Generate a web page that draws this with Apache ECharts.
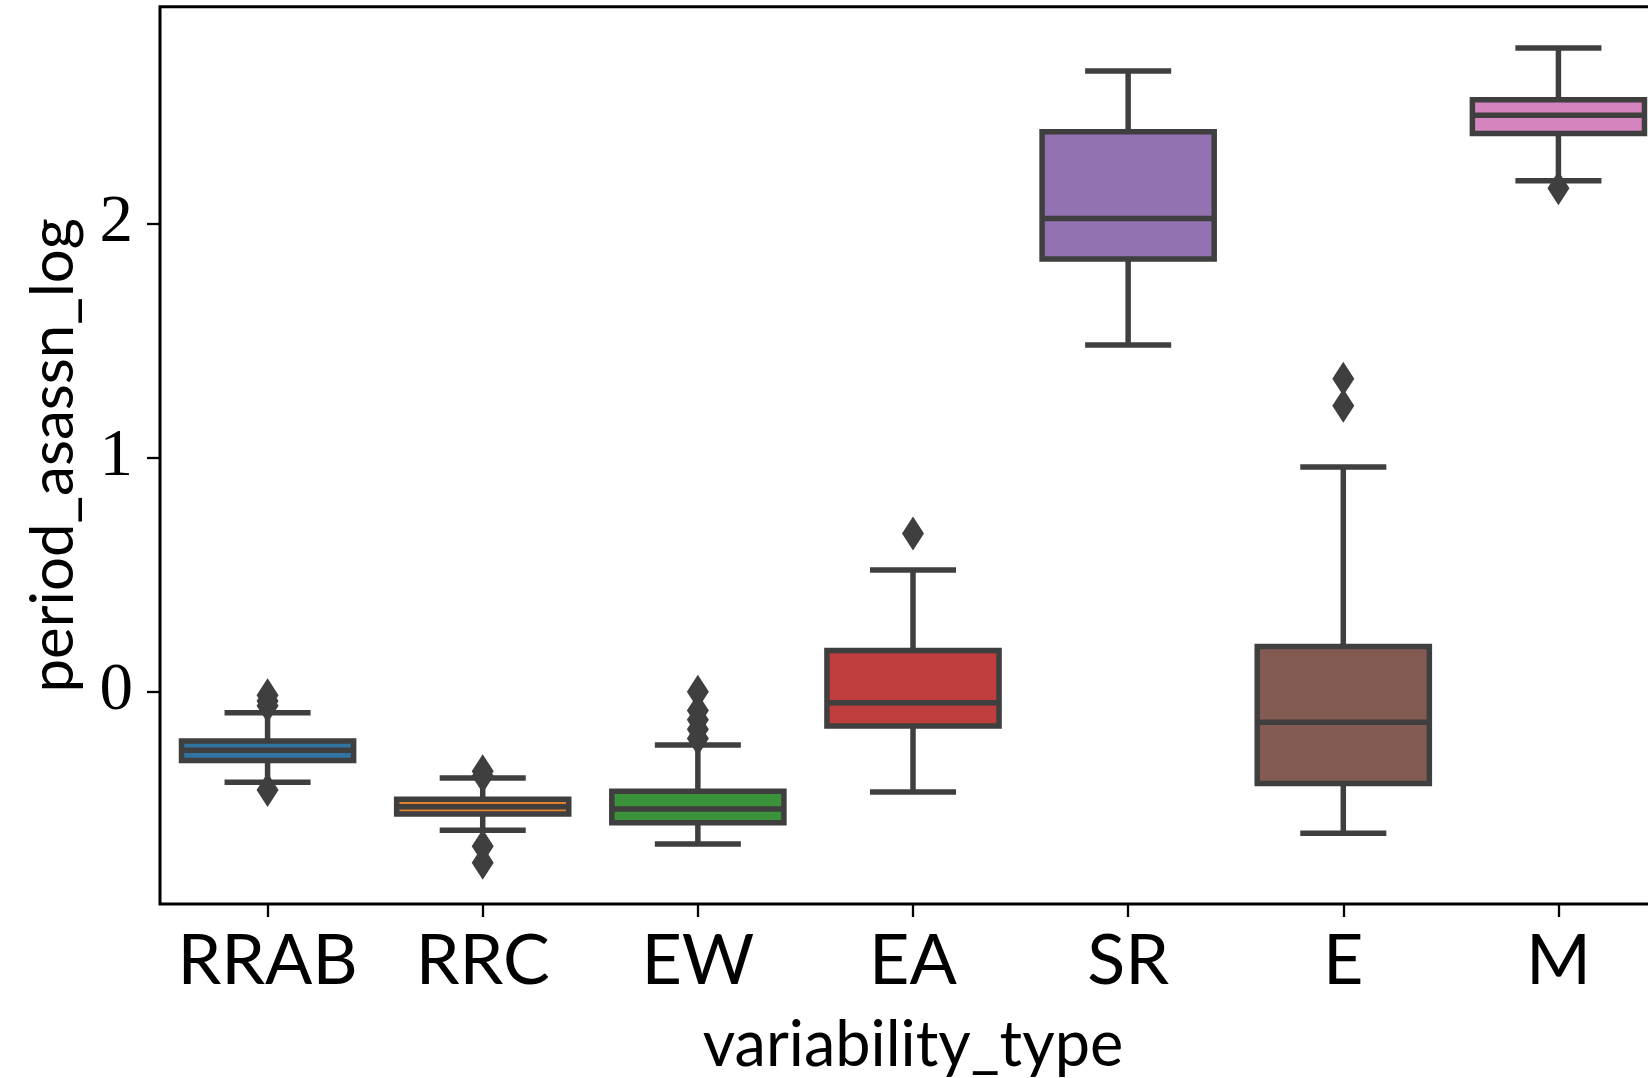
<!DOCTYPE html>
<html>
<head>
<meta charset="utf-8">
<script src="https://cdn.jsdelivr.net/npm/echarts@6/dist/echarts.min.js"></script>
<style>
  html, body { margin: 0; padding: 0; background: #ffffff; }
  #chart { width: 1648px; height: 1078px; }
</style>
</head>
<body>
<div id="chart"></div>
<script>
// ---- data ----
const categories  = ['RRAB', 'RRC', 'EW', 'EA', 'SR', 'E', 'M'];
const whiskerLow  = [-0.387, -0.592, -0.650, -0.428, 1.480, -0.604, 2.182];
const q1          = [-0.294, -0.522, -0.560, -0.146, 1.848, -0.392, 2.384];
const median      = [-0.250, -0.491, -0.501, -0.047, 2.021, -0.130, 2.462];
const q3          = [-0.211, -0.459, -0.425, 0.176, 2.391, 0.193, 2.528];
const whiskerHigh = [-0.090, -0.368, -0.228, 0.520, 2.650, 0.959, 2.749];
const outliers = [
  ['RRAB', -0.015], ['RRAB', -0.040], ['RRAB', -0.060], ['RRAB', -0.420],
  ['RRC', -0.340], ['RRC', -0.360], ['RRC', -0.660], ['RRC', -0.730],
  ['EW', 0.000], ['EW', -0.080], ['EW', -0.120], ['EW', -0.160], ['EW', -0.200],
  ['EA', 0.676],
  ['E', 1.336], ['E', 1.221],
  ['M', 2.150]
];
const yTickValues = [0, 1, 2];

// ---- styling ----
const palette = ['#3274a1', '#e1812c', '#3a923a', '#c03d3e', '#9372b2', '#845b53', '#d684bd'];
const lineColor = '#3f3f3f';
const lw = 5.5;

const boxData = categories.map((c, i) => [i, whiskerLow[i], q1[i], median[i], q3[i], whiskerHigh[i]]);
const outlierData = outliers.map(o => [categories.indexOf(o[0]), o[1]]);

const chart = echarts.init(document.getElementById('chart'), null, { renderer: 'canvas' });

chart.setOption({
  animation: false,
  backgroundColor: '#ffffff',
  grid: {
    left: 160, top: 6.7, width: 1506, height: 897.3,
    outerBoundsMode: 'none',
    containLabel: false,
    show: true, borderColor: '#000000', borderWidth: 3, backgroundColor: 'transparent'
  },
  xAxis: {
    type: 'category',
    data: categories,
    boundaryGap: true,
    name: 'variability_type',
    nameLocation: 'middle',
    nameGap: 110,
    nameTextStyle: { fontFamily: 'Lato', fontSize: 63, color: '#000000' },
    axisLine: { show: false, onZero: false },
    axisTick: { show: true, interval: 0, alignWithLabel: true, length: 13, lineStyle: { color: '#000000', width: 2.3 } },
    axisLabel: { interval: 0, fontFamily: 'Lato', fontSize: 70, color: '#000000', margin: 22 },
    splitLine: { show: false }
  },
  yAxis: {
    type: 'value',
    min: -0.9065,
    max: 2.925,
    name: 'period_asassn_log',
    nameLocation: 'middle',
    nameGap: 76,
    nameTextStyle: { fontFamily: 'Lato', fontSize: 60, color: '#000000' },
    axisLine: { show: false, onZero: false },
    axisTick: { show: true, length: 13, customValues: yTickValues, lineStyle: { color: '#000000', width: 2.3 } },
    axisLabel: { fontFamily: 'Liberation Serif', fontSize: 67, color: '#000000', margin: 27, customValues: yTickValues },
    splitLine: { show: false }
  },
  series: [
    {
      type: 'custom',
      data: boxData,
      encode: { x: 0, y: [1, 2, 3, 4, 5] },
      clip: false,
      z: 2,
      renderItem: function (params, api) {
        const idx = api.value(0);
        const band = api.size([1, 0])[0];
        const hw = band * 0.4;
        const cw = band * 0.2;
        const x = api.coord([idx, api.value(3)])[0];
        const yLo = api.coord([idx, api.value(1)])[1];
        const yQ1 = api.coord([idx, api.value(2)])[1];
        const yMed = api.coord([idx, api.value(3)])[1];
        const yQ3 = api.coord([idx, api.value(4)])[1];
        const yHi = api.coord([idx, api.value(5)])[1];
        const ls = { stroke: lineColor, lineWidth: lw, fill: null };
        return {
          type: 'group',
          children: [
            { type: 'line', shape: { x1: x, y1: yQ1, x2: x, y2: yLo }, style: ls },
            { type: 'line', shape: { x1: x, y1: yQ3, x2: x, y2: yHi }, style: ls },
            { type: 'line', shape: { x1: x - cw, y1: yLo, x2: x + cw, y2: yLo }, style: ls },
            { type: 'line', shape: { x1: x - cw, y1: yHi, x2: x + cw, y2: yHi }, style: ls },
            { type: 'rect', shape: { x: x - hw, y: yQ3, width: 2 * hw, height: yQ1 - yQ3 },
              style: { fill: palette[idx], stroke: lineColor, lineWidth: lw } },
            { type: 'line', shape: { x1: x - hw, y1: yMed, x2: x + hw, y2: yMed }, style: ls }
          ]
        };
      }
    },
    {
      type: 'scatter',
      data: outlierData,
      symbol: 'diamond',
      symbolSize: [22, 34],
      itemStyle: { color: lineColor, opacity: 1 },
      z: 3
    }
  ]
});
</script>
</body>
</html>
